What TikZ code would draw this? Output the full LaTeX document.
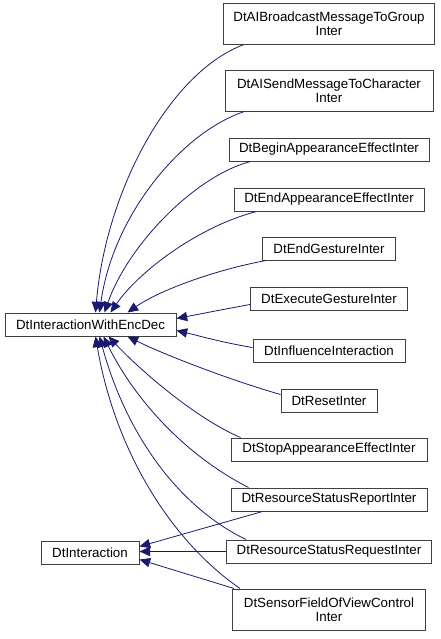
\documentclass[tikz,border=0pt]{standalone}
\usepackage{fontspec}
\setmainfont{Liberation Sans}
\usetikzlibrary{arrows.meta,calc}
\definecolor{edgeblue}{RGB}{25,25,112}
\tikzset{
    cls/.style={draw=black!75, line width=0.75pt, fill=white, font=\fontsize{10}{12}\selectfont,
        minimum height=17.25pt, inner sep=1pt, align=center},
    cls2/.style={cls, minimum height=30.75pt, font=\fontsize{10}{10.5}\selectfont},
    edge/.style={draw=edgeblue, line width=0.6pt, -{Triangle[length=8pt,width=7pt]}, fill=none}
}
\begin{document}
\begin{tikzpicture}[x=0.75pt,y=0.75pt]
        \useasboundingbox (0,0) rectangle (440,-639);
        % parents
        \node[cls, minimum width=128.25pt] (encdec) at (90.5,-324.5) {DtInteractionWithEncDec};
        \node[cls, minimum width=73.5pt] (inter) at (90,-552.5) {DtInteraction};
        % children
        \node[cls2, minimum width=158.25pt] (bcast) at (329,-23.5) {DtAIBroadcastMessageToGroup\\Inter};
        \node[cls2, minimum width=156pt] (aisend) at (329,-90.5) {DtAISendMessageToCharacter\\Inter};
        \node[cls, minimum width=150pt] (begin) at (329,-149.5) {DtBeginAppearanceEffectInter};
        \node[cls, minimum width=142.5pt] (endapp) at (329,-199.5) {DtEndAppearanceEffectInter};
        \node[cls, minimum width=99.75pt] (endgest) at (329,-248.5) {DtEndGestureInter};
        \node[cls, minimum width=117.75pt] (exec) at (329,-298.5) {DtExecuteGestureInter};
        \node[cls, minimum width=114pt] (infl) at (329,-350.5) {DtInfluenceInteraction};
        \node[cls, minimum width=72pt] (reset) at (329,-400.5) {DtResetInter};
        \node[cls, minimum width=147pt] (stop) at (329,-449.5) {DtStopAppearanceEffectInter};
        \node[cls, minimum width=147pt] (report) at (329,-499.5) {DtResourceStatusReportInter};
        \node[cls, minimum width=153.75pt] (request) at (329,-551.5) {DtResourceStatusRequestInter};
        \node[cls2, minimum width=144.75pt] (sensor) at (329,-609.5) {DtSensorFieldOfViewControl\\Inter};
        % edges to DtInteractionWithEncDec
        \draw[edge] ($(bcast.south west)+(21,0)$) .. controls (170,-72) and (106,-190) .. ($(encdec.north)+(5,0)$);
        \draw[edge] ($(aisend.south west)+(20,0)$) .. controls (182,-132) and (113,-215) .. ($(encdec.north)+(9,0)$);
        \draw[edge] ($(begin.south west)+(22,0)$) .. controls (195,-176) and (128,-245) .. ($(encdec.north)+(14,0)$);
        \draw[edge] ($(endapp.south west)+(23,0)$) .. controls (200,-226) and (140,-270) .. ($(encdec.north)+(20,0)$);
        \draw[edge] ($(endgest.south west)+(4,0)$) .. controls (215,-270) and (160,-290) .. ($(encdec.north)+(37,0)$);
        \draw[edge] ($(exec.west)+(0,-6)$) .. controls (220,-310) and (200,-314) .. ($(encdec.east)+(0,6)$);
        \draw[edge] ($(infl.west)+(0,3)$) .. controls (220,-342) and (200,-336) .. ($(encdec.east)+(0,-6)$);
        \draw[edge] ($(reset.west)+(0,6)$) .. controls (230,-380) and (165,-355) .. ($(encdec.south)+(37,0)$);
        \draw[edge] ($(stop.north west)+(10,0)$) .. controls (195,-418) and (140,-370) .. ($(encdec.south)+(18,0)$);
        \draw[edge] ($(report.north west)+(18,0)$) .. controls (185,-455) and (135,-400) .. ($(encdec.south)+(13,0)$);
        \draw[edge] ($(request.north west)+(20,0)$) .. controls (175,-505) and (125,-430) .. ($(encdec.south)+(9,0)$);
        \draw[edge] ($(sensor.north west)+(8,0)$) .. controls (170,-540) and (115,-450) .. ($(encdec.south)+(5,0)$);
        % edges to DtInteraction
        \draw[edge] ($(report.south west)+(32,0)$) -- ($(inter.east)+(0,6)$);
        \draw[edge] (request.west) -- (request.west -| inter.east);
        \draw[edge] ($(sensor.north west)+(2,0)$) -- ($(inter.east)+(0,-7)$);
\end{tikzpicture}
\end{document}
